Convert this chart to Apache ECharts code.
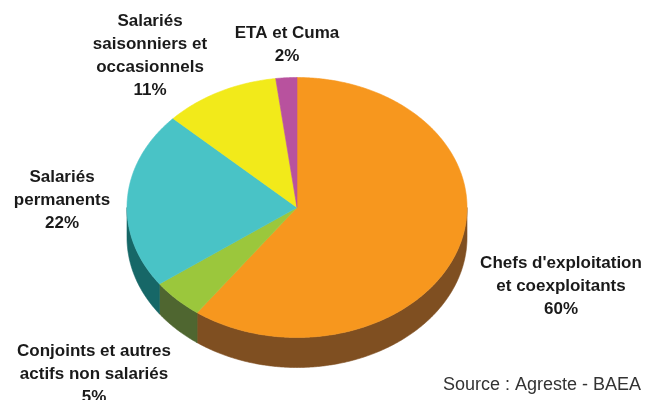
<!DOCTYPE html>
<html>
<head>
<meta charset="utf-8">
<script src="https://cdn.jsdelivr.net/npm/echarts@6/dist/echarts.min.js"></script>
<style>
html,body{margin:0;padding:0;background:#fff;}
#c{width:648px;height:400px;}
</style>
</head>
<body>
<div id="c"></div>
<script>
// ---- data ----
const categories = ["Chefs d'exploitation et coexploitants", "Conjoints et autres actifs non salariés", "Salariés permanents", "Salariés saisonniers et occasionnels", "ETA et Cuma"];
const shares = [60, 5, 22, 11, 2];
const labelLines = [
  ["Chefs d'exploitation", "et coexploitants"],
  ["Conjoints et autres", "actifs non salariés"],
  ["Salariés", "permanents"],
  ["Salariés", "saisonniers et", "occasionnels"],
  ["ETA et Cuma"]
];
const sourceText = "Source : Agreste - BAEA";

// ---- styles / layout ----
const topColors = ['#F7971E', '#9BC73C', '#49C3C6', '#F2EA1A', '#B8529E'];
const sideColors = ['#7F4F21', '#4F6630', '#166767', '#8a8510', '#6a2c5a'];
const labelPos = [[561, 252], [94, 340], [62, 166], [150, 10], [287, 22]];
const CX = 297, CY = 207.5, RX = 170, RY_TOP = 130, RY_BOT = 130, DEPTH = 30;

const total = shares.reduce((a, b) => a + b, 0);
const cum = [];
shares.reduce((acc, v, i) => { cum[i] = acc; return acc + v; }, 0);

function pt(t, dy) {
  const c = Math.cos(t);
  const ry = c > 0 ? RY_TOP : RY_BOT;
  return [CX + RX * Math.sin(t), CY - ry * c + (dy || 0)];
}

function renderItem(params, api) {
  const i = params.dataIndex;
  const v = api.value(0);
  const start = cum[i] / total * 2 * Math.PI;
  const end = (cum[i] + v) / total * 2 * Math.PI;
  const children = [];
  const steps = Math.max(4, Math.ceil((end - start) / (Math.PI / 360)));
  const topPts = [[CX, CY]];
  for (let k = 0; k <= steps; k++) topPts.push(pt(start + (end - start) * k / steps));
  children.push({
    type: 'polygon', shape: { points: topPts }, z2: 10,
    style: { fill: topColors[i], stroke: topColors[i], lineWidth: 0.6 }
  });
  const a = Math.max(start, Math.PI / 2), b = Math.min(end, 3 * Math.PI / 2);
  if (a < b) {
    const n = Math.max(4, Math.ceil((b - a) / (Math.PI / 360)));
    const sp = [];
    for (let k = 0; k <= n; k++) sp.push(pt(a + (b - a) * k / n));
    for (let k = n; k >= 0; k--) sp.push(pt(a + (b - a) * k / n, DEPTH));
    children.push({
      type: 'polygon', shape: { points: sp }, z2: 1,
      style: { fill: sideColors[i], stroke: sideColors[i], lineWidth: 0.6 }
    });
  }
  return { type: 'group', children: children };
}

const textFont = '"Liberation Sans", Arial, sans-serif';
const graphics = categories.map((c, i) => ({
  type: 'text',
  x: labelPos[i][0], y: labelPos[i][1],
  silent: true,
  style: {
    text: labelLines[i].concat([shares[i] + '%']).join('\n'),
    fontFamily: textFont, fontWeight: 'bold', fontSize: 17,
    lineHeight: 23, fill: '#1a1a1a',
    align: 'center', verticalAlign: 'top'
  }
}));
graphics.push({
  type: 'text', x: 641, y: 385, silent: true,
  style: {
    text: sourceText, fontFamily: textFont, fontSize: 18,
    fill: '#333333', align: 'right', verticalAlign: 'middle'
  }
});

const chart = echarts.init(document.getElementById('c'), null, { renderer: 'canvas' });
chart.setOption({
  backgroundColor: '#ffffff',
  animation: false,
  series: [{
    type: 'custom',
    coordinateSystem: 'none',
    silent: true,
    renderItem: renderItem,
    data: shares.map((v, i) => ({ name: categories[i], value: [v] }))
  }],
  graphic: graphics
});
</script>
</body>
</html>
